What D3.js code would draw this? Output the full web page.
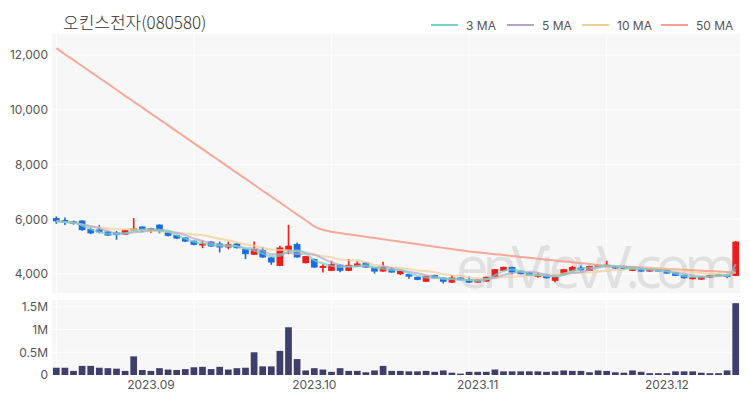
<!DOCTYPE html>
<html><head><meta charset="utf-8">
<script src="https://cdn.jsdelivr.net/npm/d3@7"></script>
<style>body{margin:0;background:#fff}</style>
</head><body><svg id="c" width="750" height="400"></svg>
<script>
const title = "오킨스전자(080580)";
const dates = [
"2023-08-17","2023-08-18","2023-08-21","2023-08-22","2023-08-23","2023-08-24","2023-08-25","2023-08-28","2023-08-29","2023-08-30","2023-08-31",
"2023-09-01","2023-09-04","2023-09-05","2023-09-06","2023-09-07","2023-09-08","2023-09-11","2023-09-12","2023-09-13","2023-09-14","2023-09-15",
"2023-09-18","2023-09-19","2023-09-20","2023-09-21","2023-09-22","2023-09-25","2023-09-26","2023-09-27",
"2023-10-04","2023-10-05","2023-10-06","2023-10-10","2023-10-11","2023-10-12","2023-10-13","2023-10-16","2023-10-17","2023-10-18","2023-10-19","2023-10-20",
"2023-10-23","2023-10-24","2023-10-25","2023-10-26","2023-10-27","2023-10-30","2023-10-31",
"2023-11-01","2023-11-02","2023-11-03","2023-11-06","2023-11-07","2023-11-08","2023-11-09","2023-11-10","2023-11-13","2023-11-14","2023-11-15","2023-11-16","2023-11-17",
"2023-11-20","2023-11-21","2023-11-22","2023-11-23","2023-11-24","2023-11-27","2023-11-28","2023-11-29","2023-11-30",
"2023-12-01","2023-12-04","2023-12-05","2023-12-06","2023-12-07","2023-12-08","2023-12-11","2023-12-12","2023-12-13"];
const open  = [6040,5970,5920,5950,5640,5620,5550,5510,5430,5600,5730,5610,5800,5540,5420,5330,5210,5050,5180,5110,4965,5110,4905,4700,4870,4600,4290,4850,5090,4390,
               4540,4230,4110,4330,4110,4255,4415,4230,4085,4170,3990,3990,3890,3710,3960,3865,3680,3865,3805,3680,3720,3890,4110,4255,4110,4050,3890,3990,3745,3960,
               4110,4230,4110,4255,4255,4290,4290,4110,4170,4085,4170,4170,4050,3960,3805,3790,3865,3925,3990,3925];
const high  = [6100,6060,5950,5960,5700,5790,5570,5570,5610,6040,5740,5690,5810,5560,5430,5340,5220,5210,5190,5180,5180,5120,4920,5180,4980,4620,5030,5795,5150,4660,
               4560,4355,4475,4340,4540,4460,4420,4240,4440,4250,4120,4000,3900,3930,3970,3870,3960,3870,3900,3800,3900,4180,4265,4260,4120,4060,4050,4000,3900,4180,
               4290,4310,4300,4340,4475,4300,4300,4220,4180,4180,4180,4180,4060,3970,3900,3900,3970,4000,4000,5200];
const low   = [5830,5790,5800,5580,5450,5480,5380,5250,5420,5600,5520,5500,5480,5370,5270,5160,5050,4940,4990,4780,4900,4930,4540,4690,4590,4330,4280,4720,4590,4380,
               4220,4050,4100,4060,4100,4250,4220,4010,4080,4040,3960,3820,3770,3700,3830,3650,3670,3760,3670,3670,3710,3880,4100,3990,3980,3915,3860,3830,3690,3950,
               4100,4120,4100,4250,4250,4185,4160,4100,4075,4075,4075,4000,3915,3830,3795,3780,3855,3915,3840,3915];
const close = [5920,5870,5830,5600,5480,5520,5400,5420,5600,5660,5600,5670,5550,5390,5290,5180,5060,5110,5000,4965,5085,4940,4720,4905,4600,4415,4965,5030,4600,4650,
               4230,4290,4355,4110,4330,4380,4230,4085,4255,4050,4110,3900,3780,3925,3840,3710,3865,3770,3680,3790,3890,4170,4255,4050,3990,3925,3990,3840,3890,4170,
               4255,4130,4290,4330,4330,4195,4170,4210,4085,4170,4085,4010,3925,3840,3890,3890,3960,3990,3890,5180];
const volume = [160000,160000,90000,200000,200000,160000,150000,140000,90000,410000,
                110000,90000,150000,120000,110000,130000,170000,180000,130000,180000,
                120000,150000,160000,500000,190000,190000,530000,1050000,350000,100000,
                150000,120000,70000,150000,90000,90000,60000,100000,200000,90000,
                90000,80000,80000,90000,70000,100000,50000,30000,70000,70000,
                70000,120000,80000,80000,80000,80000,80000,70000,80000,100000,
                90000,90000,60000,100000,90000,60000,50000,100000,70000,40000,
                40000,40000,80000,80000,80000,50000,40000,40000,100000,1580000];
const ma50 = [12250,12030,11820,11600,11380,11170,10950,10730,10510,10300,10080,9860,9650,9430,9210,9000,8780,8560,8340,8130,
              7910,7690,7480,7260,7040,6830,6610,6390,6170,5960,5740,5610,5540,5490,5445,5400,5355,5310,5265,5220,
              5175,5130,5085,5040,4995,4950,4905,4860,4820,4790,4755,4720,4690,4655,4620,4590,4555,4520,4490,4455,
              4425,4390,4360,4325,4290,4275,4260,4245,4230,4210,4195,4180,4165,4150,4130,4115,4100,4085,4070,4050];
const priceTicks = [4000,6000,8000,10000,12000];
const volTicks = [0,500000,1000000,1500000];
const volTickLabels = ["0","0.5M","1M","1.5M"];
const monthTickDates = ["2023-09-01","2023-10-04","2023-11-01","2023-12-01"];
const monthTickLabels = ["2023.09","2023.10","2023.11","2023.12"];
const legendNames = ["3 MA","5 MA","10 MA","50 MA"];
const legendColors = ["#74d3c6","#b6a4c8","#f0cf92","#f5a08e"];

const svg = d3.select("#c");
const L = 52, R = 740, PT = 34, PB = 293, VT = 300, VB = 375;
const font = "Inter, 'Noto Sans', sans-serif";

const x = d3.scaleBand().domain(dates).range([L, R]).paddingInner(0.22).paddingOuter(0.11);
const cx = d => x(d) + x.bandwidth() / 2;
const y = d3.scaleLinear().domain([3300, 12770]).range([PB, PT]);
const yv = d3.scaleLinear().domain([0, 1650000]).range([VB, VT]);

// backgrounds
svg.append("rect").attr("x", L).attr("y", PT).attr("width", R - L).attr("height", PB - PT).attr("fill", "#f7f7f7");
svg.append("rect").attr("x", L).attr("y", VT).attr("width", R - L).attr("height", VB - VT).attr("fill", "#f7f7f7");

// grids
const gridDates = dates.filter((d, i) => i % 16 === 0);
const g = svg.append("g").attr("stroke", "#fff").attr("stroke-width", 1);
g.selectAll(".gy").data(priceTicks).join("line").attr("x1", L).attr("x2", R).attr("y1", d => y(d)).attr("y2", d => y(d));
g.selectAll(".gv").data(volTicks.slice(1)).join("line").attr("x1", L).attr("x2", R).attr("y1", d => yv(d)).attr("y2", d => yv(d));
g.selectAll(".gx").data(gridDates).join("line").attr("x1", d => cx(d)).attr("x2", d => cx(d)).attr("y1", PT).attr("y2", PB);
g.selectAll(".gx2").data(gridDates).join("line").attr("x1", d => cx(d)).attr("x2", d => cx(d)).attr("y1", VT).attr("y2", VB);

// watermark
svg.append("text").attr("x", 456).attr("y", 288).attr("font-family", "'Open Sans', sans-serif").attr("font-size", 58)
  .attr("fill", "#cfcfcf").attr("opacity", 0.55).attr("textLength", 282).text("enVievV.com");

// moving averages
function movAvg(n) {
  return close.map((c, i) => d3.mean(close.slice(Math.max(0, i - n + 1), i + 1)));
}
const ma3 = movAvg(3), ma5 = movAvg(5), ma10 = movAvg(10);
const line = d3.line().x((v, i) => cx(dates[i])).y(v => y(v)).curve(d3.curveMonotoneX);

// candles
const data = dates.map((d, i) => ({d, o: open[i], h: high[i], l: low[i], c: close[i], v: volume[i]}));
const col = d => d.c >= d.o ? "#ee1c1c" : "#1e6be0";
const cg = svg.append("g");
cg.selectAll(".w").data(data).join("line")
  .attr("x1", d => cx(d.d)).attr("x2", d => cx(d.d)).attr("y1", d => y(d.h)).attr("y2", d => y(d.l))
  .attr("stroke", col).attr("stroke-width", 1.6);
cg.selectAll(".b").data(data).join("rect")
  .attr("x", d => x(d.d)).attr("width", x.bandwidth())
  .attr("y", d => y(Math.max(d.o, d.c))).attr("height", d => Math.max(2, Math.abs(y(d.o) - y(d.c))))
  .attr("fill", col);

const series = [ma3, ma5, ma10, ma50];
[3, 2, 1, 0].forEach(k => {
  svg.append("path").attr("d", line(series[k])).attr("fill", "none")
    .attr("stroke", legendColors[k]).attr("stroke-width", 2).attr("opacity", k === 3 ? 0.9 : 0.7);
});

// volume
svg.append("g").selectAll("rect").data(data).join("rect")
  .attr("x", d => x(d.d)).attr("width", x.bandwidth())
  .attr("y", d => yv(d.v)).attr("height", d => VB - yv(d.v)).attr("fill", "#3f3f6b");

// axes
const ya = svg.append("g").attr("transform", `translate(${L},0)`)
  .call(d3.axisLeft(y).tickValues(priceTicks).tickFormat(d3.format(",")).tickSize(0).tickPadding(4));
const va = svg.append("g").attr("transform", `translate(${L},0)`)
  .call(d3.axisLeft(yv).tickValues(volTicks).tickFormat((d, i) => volTickLabels[i]).tickSize(0).tickPadding(4));
const xa = svg.append("g").attr("transform", `translate(0,${VB})`)
  .call(d3.axisBottom(x).tickValues(monthTickDates).tickFormat((d, i) => monthTickLabels[i]).tickSize(0).tickPadding(5));
[ya, va, xa].forEach(a => {
  a.select(".domain").remove();
  a.selectAll("text").attr("font-family", font).attr("font-size", 12).attr("fill", "#555");
});

// title
svg.append("text").attr("x", 63).attr("y", 29).attr("font-family", "'Noto Sans CJK KR', sans-serif")
  .attr("font-size", 17).attr("font-weight", 300).attr("fill", "#333").text(title);

// legend
const legX = [431, 507, 582, 661];
const lg = svg.append("g");
legendNames.forEach((n, i) => {
  lg.append("line").attr("x1", legX[i]).attr("x2", legX[i] + 27).attr("y1", 25).attr("y2", 25)
    .attr("stroke", legendColors[i]).attr("stroke-width", 2);
  lg.append("text").attr("x", legX[i] + 35).attr("y", 29.5).attr("font-family", font)
    .attr("font-size", 12).attr("fill", "#555").text(n);
});
</script></body></html>
